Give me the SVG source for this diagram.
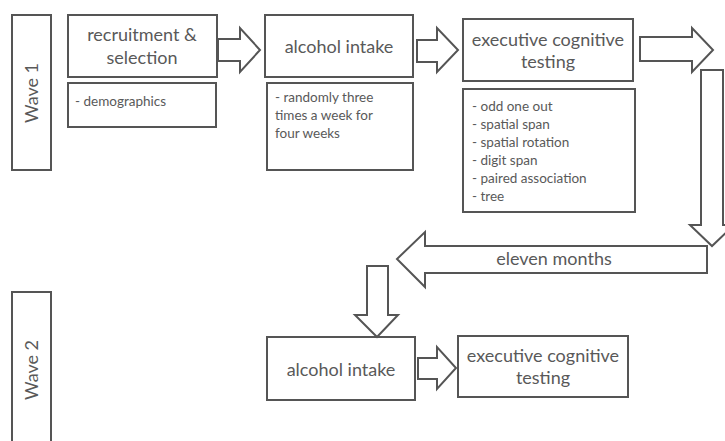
<svg xmlns="http://www.w3.org/2000/svg" width="725" height="441" viewBox="0 0 725 441">
<style>
.box{fill:#fff;stroke:#555;stroke-width:2}
.arr{fill:#fff;stroke:#555;stroke-width:2;stroke-linejoin:miter}
text{font-family:Lato,"Open Sans",sans-serif;fill:#595959}
.t{font-size:18px;text-anchor:middle}
.s{font-size:13.5px}
</style>
<rect width="725" height="441" fill="#fff"/>
<g id="wave1"><rect class="box" x="12" y="15" width="39" height="155"/><text class="t" transform="translate(38,93) rotate(-90)">Wave 1</text></g>
<g id="wave2"><rect class="box" x="12" y="292" width="39" height="160"/><text class="t" transform="translate(38,370) rotate(-90)">Wave 2</text></g>
<g id="recruit"><rect class="box" x="68" y="15" width="149" height="62"/><text class="t" x="142" y="41">recruitment &amp;</text><text class="t" x="142" y="64">selection</text></g>
<g id="demo"><rect class="box" x="68" y="83" width="148" height="44"/><text class="s" x="75" y="106">- demographics</text></g>
<g id="alc1"><rect class="box" x="265" y="15" width="148" height="62"/><text class="t" x="339" y="53">alcohol intake</text></g>
<g id="alc1d"><rect class="box" x="267" y="83" width="146" height="87"/><text class="s" x="275" y="102">- randomly three</text><text class="s" x="275" y="120">times a week for</text><text class="s" x="275" y="138">four weeks</text></g>
<g id="exec1"><rect class="box" x="463" y="19" width="170" height="62"/><text class="t" x="548" y="46">executive cognitive</text><text class="t" x="548" y="68">testing</text></g>
<g id="exec1d"><rect class="box" x="463" y="89" width="172" height="123"/>
<text class="s" x="472" y="111">- odd one out</text><text class="s" x="472" y="129">- spatial span</text><text class="s" x="472" y="147">- spatial rotation</text><text class="s" x="472" y="165">- digit span</text><text class="s" x="472" y="183">- paired association</text><text class="s" x="472" y="201">- tree</text></g>
<g id="alc2"><rect class="box" x="267" y="337" width="148" height="63"/><text class="t" x="341" y="376">alcohol intake</text></g>
<g id="exec2"><rect class="box" x="458" y="336" width="170" height="61"/><text class="t" x="543" y="362">executive cognitive</text><text class="t" x="543" y="384">testing</text></g>
<g id="connectors">
<polygon class="arr" points="218,39 240,39 240,28 260,50 240,72 240,61 218,61"/>
<polygon class="arr" points="417,40 437,40 437,28 458,50 437,72 437,62 417,62"/>
<polygon class="arr" points="640,37 692,37 692,28 713,50 692,72 692,61 640,61"/>
<polygon class="arr" points="701,70 723,70 723,225 734,225 712,246 690,225 701,225"/>
<polygon class="arr" points="707,246 425,246 425,232 397,259 425,287 425,273 707,273"/>
<text class="t" x="554" y="265">eleven months</text>
<polygon class="arr" points="367,266 388,266 388,315 398,315 377,337 355,315 367,315"/>
<polygon class="arr" points="418,358 437,358 437,347 456,368 437,389 437,379 418,379"/>
</g>
</svg>
